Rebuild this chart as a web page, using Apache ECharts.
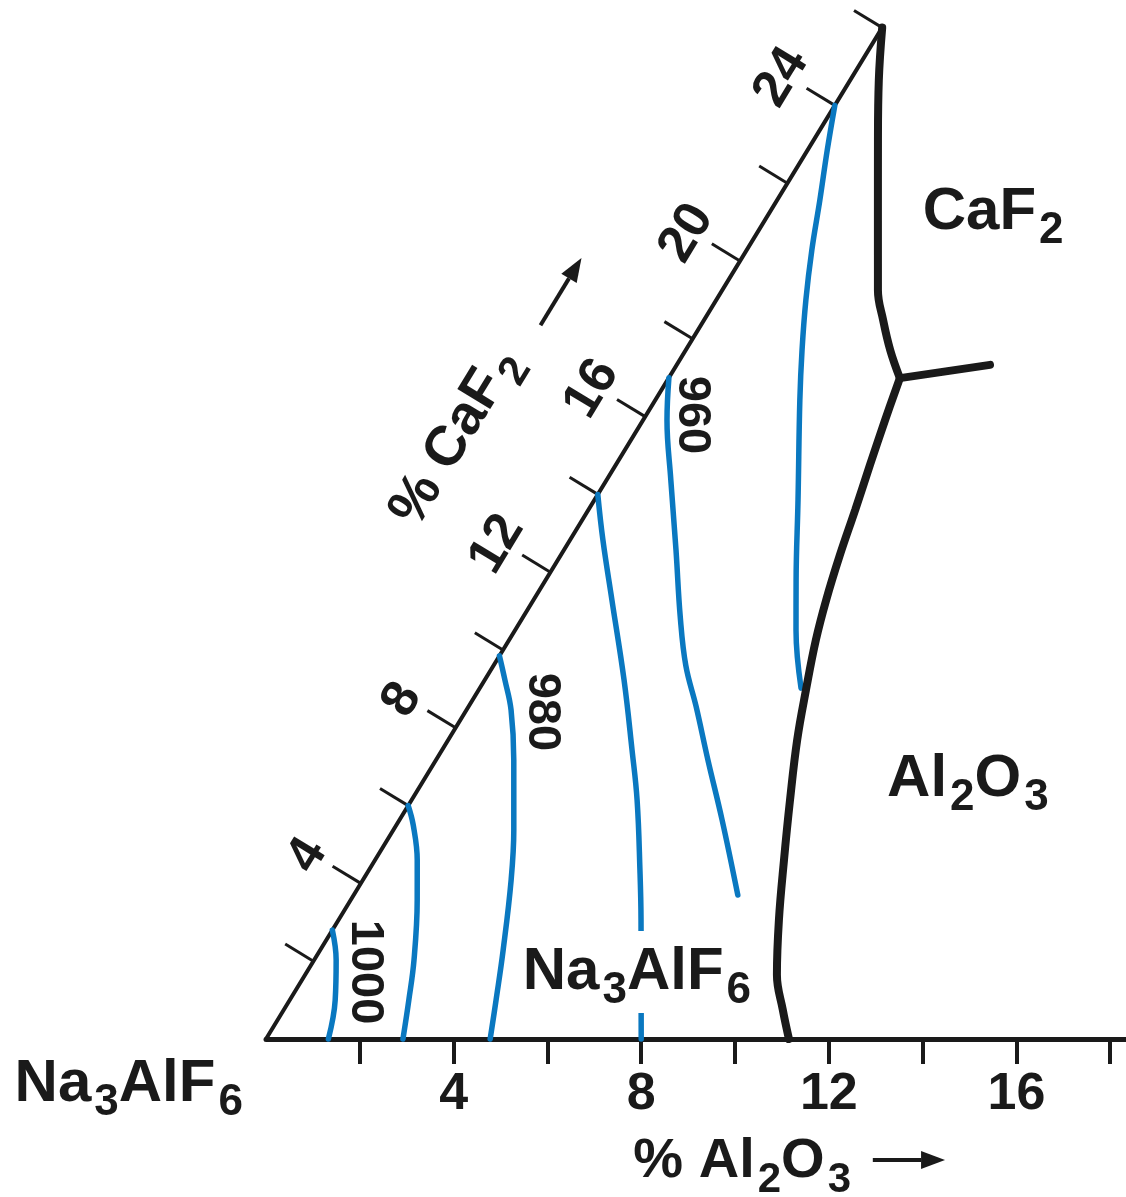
<!DOCTYPE html>
<html>
<head>
<meta charset="utf-8">
<script src="https://cdn.jsdelivr.net/npm/echarts@6/dist/echarts.min.js"></script>
<style>
  html, body { margin: 0; padding: 0; background: #fff; }
  #chart { width: 1126px; height: 1197px; }
</style>
</head>
<body>
<div id="chart"></div>
<script>
// ---- data (compositions as [% Al2O3, % CaF2]) ----
const al2o3Ticks = [2, 4, 6, 8, 10, 12, 14, 16, 18];
const al2o3Labels = [4, 8, 12, 16];
const caf2Ticks = [2, 4, 6, 8, 10, 12, 14, 16, 18, 20, 22, 24, 26];
const caf2Labels = [4, 8, 12, 16, 20, 24];
const caf2Max = 26;

// liquidus isotherms (blue)
const iso1000 = [[0, 2.8], [0.47, 2.03], [0.97, 1.0], [1.33, 0]];
const iso990 = [[0, 6.0], [0.36, 5.5], [0.9, 4.6], [1.42, 3.57], [2.13, 2.03], [2.54, 1.0], [2.92, 0]];
const iso980 = [[0, 9.85], [0.43, 9.23], [0.95, 8.46], [1.66, 7.17], [2.57, 5.37], [3.16, 4.09], [3.9, 2.29], [4.4, 1.0], [4.78, 0]];
const iso970 = [[0, 14.0], [0.7, 12.83], [1.67, 11.29], [2.97, 9.23], [4.05, 7.43], [4.81, 6.14], [5.78, 4.34], [6.45, 3.06], [7.23, 1.52], [8.0, 0]];
const iso960 = [[0, 17.0], [0.51, 15.91], [1.37, 14.37], [2.39, 12.57], [3.35, 10.85], [4.1, 9.6], [4.85, 8.55], [5.8, 7.17], [6.88, 5.63], [8.19, 3.7]];
const iso950 = [[0, 24.0], [0.42, 22.85], [0.91, 21.57], [1.39, 20.28], [1.91, 19.0], [2.48, 17.71], [3.08, 16.43], [4.34, 13.86], [5.34, 11.8], [5.99, 10.51], [6.85, 9.02]];

// phase boundaries (black)
const triplePoint = [4.93, 16.99];
const caf2Boundary = [[0, 26.0], [0.61, 24.65], [1.37, 23.11], [2.41, 21.05], [3.32, 19.25], [3.82, 18.48], [4.36, 17.71], triplePoint];
const al2o3Boundary = [triplePoint, [5.16, 15.91], [5.42, 14.76], [5.69, 13.6], [5.95, 12.44], [6.24, 11.29], [6.54, 10.26], [6.98, 8.97], [7.44, 7.69], [8.07, 6.14], [8.72, 4.6], [9.39, 3.06], [10.06, 1.65], [10.64, 0.75], [11.15, 0]];
const branchBoundary = [triplePoint, [6.68, 17.33]];

// annotation texts
const phaseNames = ['{m|CaF}{s|2}', '{m|Al}{s|2}{m|O}{s|3}', '{m|Na}{s|3}{m|AlF}{s|6}'];
const isothermNames = ['1000', '980', '960'];
const cornerName = '{m|Na}{s|3}{m|AlF}{s|6}';
const al2o3Title = '{m|% Al}{s|2}{m|O}{s|3}';
const caf2Title = '{m|% CaF}{s|2}';

// ---- layout ----
const W = 1126, H = 1197, LEFT = 266, BASE = 1039;
const PX = 46.9;                       // px per % Al2O3 on the base
const SX = 23.7 / PX, SY = 38.9 / PX;  // slant edge: px per % CaF2 (right, up)
const toXY = ([a, c]) => [a + c * SX, c * SY];

const INK = '#1a1a1a';
const BLUE = '#0a78c0';
const FONT = '"Liberation Sans", Arial, Helvetica, sans-serif';

const phaseAt = [[4.76, 21.26], [11.59, 6.68], [7.04, 1.72]];
const isothermAt = [[1.24, 1.72], [1.64, 8.41], [0.98, 16.04]];
const cornerAt = [-2.34, -1.16];
const al2o3TitleAt = [11.75, -3.16];
const caf2TitleAt = [-3.79, 15.48];
const arrowsAt = [[[14.51, -3.11], [16.05, -3.11]], [[-3.42, 18.35], [-3.42, 20.08]]];
const slantAngle = Math.atan2(38.9, 23.7) * 180 / Math.PI;

// subscript: padding on top pushes the small digits below the main line
const rich = (big, small, drop) => ({
  m: { fontSize: big, fontWeight: 'bold', fontFamily: FONT, color: INK, verticalAlign: 'middle' },
  s: { fontSize: small, fontWeight: 'bold', fontFamily: FONT, color: INK, verticalAlign: 'middle', padding: [drop * 2, 0, 0, 3] }
});

const labelItems = [];
phaseNames.forEach((t, i) => labelItems.push({
  value: toXY(phaseAt[i]),
  label: { formatter: t, rich: rich(60, 44, 19), backgroundColor: i === 2 ? '#fff' : 'transparent', padding: i === 2 ? [0, 6] : 0 }
}));
isothermNames.forEach((t, i) => labelItems.push({
  value: toXY(isothermAt[i]),
  label: { formatter: t, rotate: -90, fontSize: 47, fontWeight: 'bold', fontFamily: FONT, color: INK }
}));
labelItems.push({ value: toXY(cornerAt), label: { formatter: cornerName, rich: rich(60, 44, 19) } });
labelItems.push({ value: toXY(al2o3TitleAt), label: { formatter: al2o3Title, rich: rich(56, 42, 18) } });
labelItems.push({ value: toXY(caf2TitleAt), label: { formatter: caf2Title, rich: rich(56, 42, 18), rotate: slantAngle } });

const lineSeries = (data, color, width) => ({
  type: 'line', data: data.map(toXY), symbol: 'none', smooth: 0.4, silent: true, clip: false,
  lineStyle: { color, width, cap: 'round' }, z: 3
});

const chart = echarts.init(document.getElementById('chart'), null, { renderer: 'canvas' });
chart.setOption({
  animation: false,
  backgroundColor: '#fff',
  grid: { left: LEFT, right: 0, top: 0, bottom: H - BASE },
  xAxis: {
    type: 'value', min: 0, max: (W - LEFT) / PX,
    axisLine: { show: true, onZero: false, lineStyle: { color: INK, width: 5 } },
    axisTick: { show: true, customValues: al2o3Ticks, length: 25, lineStyle: { color: INK, width: 4 } },
    axisLabel: { customValues: al2o3Labels, fontSize: 52, fontWeight: 'bold', fontFamily: FONT, color: INK, margin: 30 },
    splitLine: { show: false }
  },
  yAxis: { type: 'value', min: 0, max: BASE / PX, show: false },
  series: [
    lineSeries([[0, 0], [0, caf2Max]], INK, 4),
    {
      type: 'custom', coordinateSystem: 'cartesian2d', silent: true, clip: false, z: 3,
      data: caf2Ticks.map(c => toXY([0, c]).concat(c)),
      renderItem(params, api) {
        const p = api.coord([api.value(0), api.value(1)]);
        const o = api.coord(toXY([0, 0])), q = api.coord(toXY([0, 1]));
        let dx = q[0] - o[0], dy = q[1] - o[1];
        const len = Math.hypot(dx, dy); dx /= len; dy /= len;
        const nx = dy, ny = -dx;
        const c = api.value(2);
        const children = [{
          type: 'line',
          shape: { x1: p[0], y1: p[1], x2: p[0] + nx * 33, y2: p[1] + ny * 33 },
          style: { stroke: INK, lineWidth: 3 }
        }];
        if (caf2Labels.includes(c)) {
          children.push({
            type: 'text', x: p[0] + nx * 60 - dx * 4, y: p[1] + ny * 60 - dy * 4, rotation: Math.atan2(-dy, dx),
            style: { text: String(c), fill: INK, font: 'bold 52px ' + FONT, align: 'center', verticalAlign: 'middle' }
          });
        }
        return { type: 'group', children };
      }
    },
    lineSeries(iso1000, BLUE, 5.5),
    lineSeries(iso990, BLUE, 5.5),
    lineSeries(iso980, BLUE, 5.5),
    lineSeries(iso970, BLUE, 5.5),
    lineSeries(iso960, BLUE, 5.5),
    lineSeries(iso950, BLUE, 5.5),
    lineSeries(caf2Boundary, INK, 8),
    lineSeries(al2o3Boundary, INK, 8),
    lineSeries(branchBoundary, INK, 8),
    {
      type: 'custom', coordinateSystem: 'cartesian2d', silent: true, clip: false, z: 5,
      data: arrowsAt.map(([s, e]) => toXY(s).concat(toXY(e))),
      renderItem(params, api) {
        const p = api.coord([api.value(0), api.value(1)]);
        const q = api.coord([api.value(2), api.value(3)]);
        let dx = q[0] - p[0], dy = q[1] - p[1];
        const len = Math.hypot(dx, dy); dx /= len; dy /= len;
        const bx = q[0] - dx * 24, by = q[1] - dy * 24;
        return {
          type: 'group', children: [
            { type: 'line', shape: { x1: p[0], y1: p[1], x2: bx, y2: by }, style: { stroke: INK, lineWidth: 4 } },
            { type: 'polygon', shape: { points: [q, [bx - dy * 9, by + dx * 9], [bx + dy * 9, by - dx * 9]] }, style: { fill: INK } }
          ]
        };
      }
    },
    {
      type: 'scatter', silent: true, clip: false, z: 10,
      symbol: 'circle', symbolSize: 1, itemStyle: { color: 'rgba(0,0,0,0)', opacity: 1 },
      label: { show: true, position: 'inside', color: INK, opacity: 1 },
      emphasis: { disabled: true },
      data: labelItems
    }
  ]
});
</script>
</body>
</html>
